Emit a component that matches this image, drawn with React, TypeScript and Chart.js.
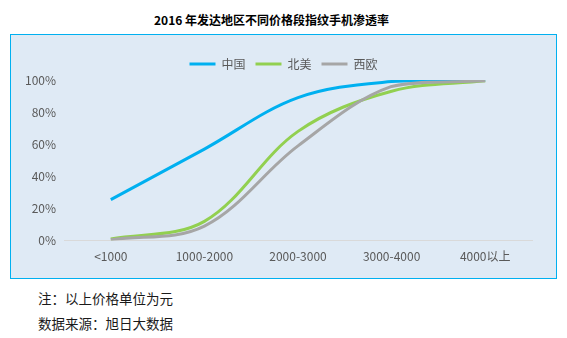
import React, { useEffect, useRef } from "react";
import { Chart, registerables } from "chart.js";

Chart.register(...registerables);

const categories = ["<1000", "1000-2000", "2000-3000", "3000-4000", "4000以上"];
const chinaValues = [25.5, 57, 89, 99, 100];
const northAmericaValues = [1, 12, 68, 93, 99.5];
const westernEuropeValues = [0.5, 9, 59, 96, 99.5];
const seriesNames = ["中国", "北美", "西欧"];
const yTicks = [0, 20, 40, 60, 80, 100];

const FONT = "'Noto Sans CJK SC', 'Noto Sans', sans-serif";

const centerLegend = {
  id: "centerLegend",
  afterLayout(chart: any) {
    if (chart.legend) {
      chart.legend.left = 0;
      chart.legend.right = chart.width;
    }
  },
};

export default function App() {
  const canvasRef = useRef<HTMLCanvasElement | null>(null);

  useEffect(() => {
    const canvas = canvasRef.current;
    if (!canvas) return;
    const colors = ["#00b0f0", "#92d050", "#a6a6a6"];
    const values = [chinaValues, northAmericaValues, westernEuropeValues];
    const orders = [1, 2, 0];
    const chart = new Chart(canvas, {
      type: "line",
      data: {
        labels: categories,
        datasets: seriesNames.map((name, i) => ({
          label: name,
          data: values[i],
          borderColor: colors[i],
          backgroundColor: colors[i],
          borderWidth: 3,
          pointRadius: 0,
          tension: 0.35,
          fill: false,
          order: orders[i],
        })),
      },
      options: {
        animation: false,
        responsive: false,
        maintainAspectRatio: false,
        layout: { padding: { top: 13, right: 24, bottom: 5, left: 0 } },
        plugins: {
          tooltip: { enabled: false },
          legend: {
            position: "top",
            labels: {
              boxWidth: 26,
              boxHeight: 3,
              padding: 10,
              color: "#595959",
              font: { family: FONT, size: 12 },
              sort: (a: any, b: any) => a.datasetIndex - b.datasetIndex,
              generateLabels: (ch: any) =>
                Chart.defaults.plugins.legend.labels
                  .generateLabels(ch)
                  .map((it: any) => ({ ...it, lineWidth: 0, fillStyle: it.strokeStyle })),
            },
          },
        },
        scales: {
          x: {
            offset: true,
            grid: { display: false, drawTicks: false },
            border: { display: true, color: "#d9d9d9", width: 1 },
            ticks: {
              padding: 9,
              color: "#595959",
              font: { family: FONT, size: 12 },
              maxRotation: 0,
            },
          },
          y: {
            min: 0,
            max: 100,
            afterFit: (s: any) => {
              s.width = 53;
            },
            afterBuildTicks: (s: any) => {
              s.ticks = yTicks.map((v) => ({ value: v }));
            },
            grid: { display: false, drawTicks: false },
            border: { display: false },
            ticks: {
              padding: 8,
              color: "#595959",
              font: { family: FONT, size: 12 },
              callback: (v: any) => v + "%",
            },
          },
        },
      },
      plugins: [centerLegend],
    });
    return () => chart.destroy();
  }, []);

  return (
    <div
      style={{
        position: "fixed",
        left: 0,
        top: 0,
        width: 567,
        height: 338,
        background: "#ffffff",
        fontFamily: FONT,
      }}
    >
      <div
        style={{
          position: "absolute",
          left: 0,
          top: 10,
          width: 543,
          textAlign: "center",
          fontWeight: "bold",
          fontSize: 12,
          lineHeight: "20px",
          color: "#000000",
        }}
      >
        2016 年发达地区不同价格段指纹手机渗透率
      </div>
      <div
        style={{
          position: "absolute",
          left: 10,
          top: 34,
          width: 547,
          height: 245,
          boxSizing: "border-box",
          border: "1px solid #00b0f0",
          background: "#dfeaf5",
        }}
      >
        <canvas
          ref={canvasRef}
          width={545}
          height={243}
          style={{ display: "block", width: 545, height: 243 }}
        />
      </div>
      <div
        style={{
          position: "absolute",
          left: 38,
          top: 288,
          fontSize: 13.5,
          lineHeight: "20px",
          color: "#1a1a1a",
        }}
      >
        注：以上价格单位为元
      </div>
      <div
        style={{
          position: "absolute",
          left: 38,
          top: 313,
          fontSize: 13.5,
          lineHeight: "20px",
          color: "#1a1a1a",
        }}
      >
        数据来源：旭日大数据
      </div>
    </div>
  );
}
